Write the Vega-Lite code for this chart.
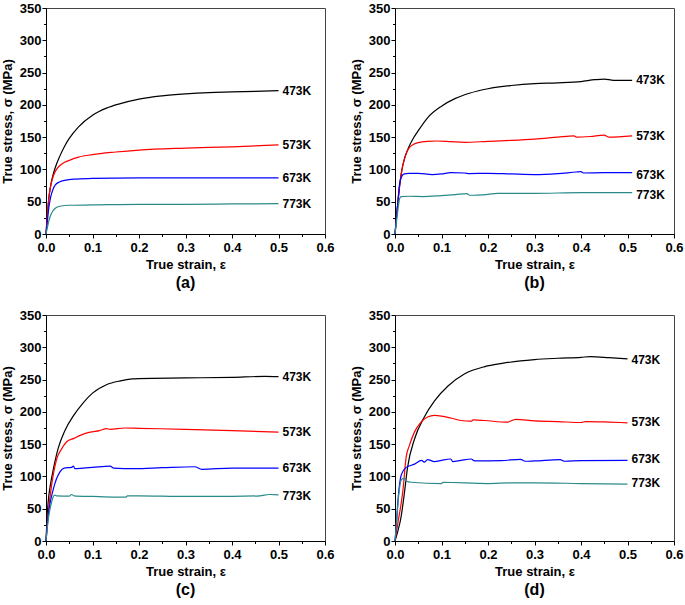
{
"$schema": "https://vega.github.io/schema/vega-lite/v6.json",
"background": "white",
"padding": {"left": 0, "top": 1, "right": 0, "bottom": 0},
"columns": 2,
"spacing": {"row": 16, "column": 14},
"config": {
  "view": {"stroke": "#444444", "strokeWidth": 1},
  "axis": {"grid": false, "domainColor": "#000000", "domainWidth": 1, "tickColor": "#000000", "tickWidth": 1,
    "labelFont": "Liberation Sans", "labelFontSize": 13, "labelFontWeight": "bold", "labelColor": "#000000",
    "titleFont": "Liberation Sans", "titleFontSize": 13, "titleFontWeight": "bold", "titleColor": "#000000",
    "labelFlush": false, "labelOverlap": false},
  "title": {"font": "Liberation Sans", "fontSize": 16, "fontWeight": "bold", "color": "#000000"},
  "text": {"font": "Liberation Sans"}
},
"datasets": {
"curves": [
{"p":"a","T":"473K","e":0,"s":0},{"p":"a","T":"473K","e":0.003,"s":30},{"p":"a","T":"473K","e":0.006,"s":55},{"p":"a","T":"473K","e":0.01,"s":75},{"p":"a","T":"473K","e":0.015,"s":91},{"p":"a","T":"473K","e":0.02,"s":103},{"p":"a","T":"473K","e":0.03,"s":121},{"p":"a","T":"473K","e":0.04,"s":136},{"p":"a","T":"473K","e":0.05,"s":148},{"p":"a","T":"473K","e":0.07,"s":166},{"p":"a","T":"473K","e":0.1,"s":184},{"p":"a","T":"473K","e":0.13,"s":195},{"p":"a","T":"473K","e":0.16,"s":202},{"p":"a","T":"473K","e":0.2,"s":209},{"p":"a","T":"473K","e":0.25,"s":214},{"p":"a","T":"473K","e":0.3,"s":217},{"p":"a","T":"473K","e":0.35,"s":219},{"p":"a","T":"473K","e":0.4,"s":220},{"p":"a","T":"473K","e":0.45,"s":221},{"p":"a","T":"473K","e":0.5,"s":222},
{"p":"a","T":"573K","e":0,"s":0},{"p":"a","T":"573K","e":0.003,"s":30},{"p":"a","T":"573K","e":0.006,"s":55},{"p":"a","T":"573K","e":0.01,"s":74},{"p":"a","T":"573K","e":0.015,"s":88},{"p":"a","T":"573K","e":0.02,"s":97},{"p":"a","T":"573K","e":0.03,"s":106},{"p":"a","T":"573K","e":0.04,"s":111},{"p":"a","T":"573K","e":0.05,"s":114},{"p":"a","T":"573K","e":0.07,"s":119},{"p":"a","T":"573K","e":0.1,"s":123},{"p":"a","T":"573K","e":0.15,"s":127},{"p":"a","T":"573K","e":0.2,"s":130},{"p":"a","T":"573K","e":0.3,"s":133},{"p":"a","T":"573K","e":0.4,"s":135},{"p":"a","T":"573K","e":0.5,"s":138},
{"p":"a","T":"673K","e":0,"s":0},{"p":"a","T":"673K","e":0.003,"s":20},{"p":"a","T":"673K","e":0.006,"s":40},{"p":"a","T":"673K","e":0.01,"s":57},{"p":"a","T":"673K","e":0.015,"s":69},{"p":"a","T":"673K","e":0.02,"s":76},{"p":"a","T":"673K","e":0.03,"s":81},{"p":"a","T":"673K","e":0.04,"s":83},{"p":"a","T":"673K","e":0.06,"s":85},{"p":"a","T":"673K","e":0.1,"s":86},{"p":"a","T":"673K","e":0.2,"s":87},{"p":"a","T":"673K","e":0.3,"s":87},{"p":"a","T":"673K","e":0.4,"s":87},{"p":"a","T":"673K","e":0.5,"s":87},
{"p":"a","T":"773K","e":0,"s":0},{"p":"a","T":"773K","e":0.003,"s":10},{"p":"a","T":"773K","e":0.006,"s":20},{"p":"a","T":"773K","e":0.01,"s":29},{"p":"a","T":"773K","e":0.015,"s":36},{"p":"a","T":"773K","e":0.02,"s":40},{"p":"a","T":"773K","e":0.03,"s":43},{"p":"a","T":"773K","e":0.05,"s":44.5},{"p":"a","T":"773K","e":0.1,"s":45},{"p":"a","T":"773K","e":0.2,"s":46},{"p":"a","T":"773K","e":0.3,"s":46},{"p":"a","T":"773K","e":0.4,"s":46.5},{"p":"a","T":"773K","e":0.5,"s":47},
{"p":"b","T":"473K","e":0,"s":0},{"p":"b","T":"473K","e":0.005,"s":40},{"p":"b","T":"473K","e":0.01,"s":75},{"p":"b","T":"473K","e":0.015,"s":100},{"p":"b","T":"473K","e":0.02,"s":116},{"p":"b","T":"473K","e":0.03,"s":135},{"p":"b","T":"473K","e":0.04,"s":149},{"p":"b","T":"473K","e":0.05,"s":160},{"p":"b","T":"473K","e":0.07,"s":180},{"p":"b","T":"473K","e":0.1,"s":198},{"p":"b","T":"473K","e":0.13,"s":210},{"p":"b","T":"473K","e":0.16,"s":218},{"p":"b","T":"473K","e":0.2,"s":225},{"p":"b","T":"473K","e":0.25,"s":230},{"p":"b","T":"473K","e":0.3,"s":233},{"p":"b","T":"473K","e":0.35,"s":234},{"p":"b","T":"473K","e":0.4,"s":236},{"p":"b","T":"473K","e":0.43,"s":239},{"p":"b","T":"473K","e":0.45,"s":240},{"p":"b","T":"473K","e":0.47,"s":238},{"p":"b","T":"473K","e":0.51,"s":238},
{"p":"b","T":"573K","e":0,"s":0},{"p":"b","T":"573K","e":0.005,"s":40},{"p":"b","T":"573K","e":0.01,"s":75},{"p":"b","T":"573K","e":0.015,"s":100},{"p":"b","T":"573K","e":0.02,"s":115},{"p":"b","T":"573K","e":0.025,"s":126},{"p":"b","T":"573K","e":0.03,"s":133},{"p":"b","T":"573K","e":0.04,"s":139},{"p":"b","T":"573K","e":0.05,"s":141.5},{"p":"b","T":"573K","e":0.07,"s":143.5},{"p":"b","T":"573K","e":0.09,"s":144},{"p":"b","T":"573K","e":0.12,"s":143},{"p":"b","T":"573K","e":0.15,"s":142},{"p":"b","T":"573K","e":0.2,"s":143.5},{"p":"b","T":"573K","e":0.25,"s":145},{"p":"b","T":"573K","e":0.3,"s":147},{"p":"b","T":"573K","e":0.35,"s":150},{"p":"b","T":"573K","e":0.385,"s":152},{"p":"b","T":"573K","e":0.39,"s":150},{"p":"b","T":"573K","e":0.42,"s":151},{"p":"b","T":"573K","e":0.45,"s":153},{"p":"b","T":"573K","e":0.46,"s":150},{"p":"b","T":"573K","e":0.51,"s":152},
{"p":"b","T":"673K","e":0,"s":0},{"p":"b","T":"673K","e":0.005,"s":40},{"p":"b","T":"673K","e":0.01,"s":78},{"p":"b","T":"673K","e":0.015,"s":90},{"p":"b","T":"673K","e":0.02,"s":93},{"p":"b","T":"673K","e":0.03,"s":94},{"p":"b","T":"673K","e":0.05,"s":94},{"p":"b","T":"673K","e":0.08,"s":92},{"p":"b","T":"673K","e":0.1,"s":93},{"p":"b","T":"673K","e":0.12,"s":95},{"p":"b","T":"673K","e":0.15,"s":94.5},{"p":"b","T":"673K","e":0.16,"s":93.5},{"p":"b","T":"673K","e":0.2,"s":94},{"p":"b","T":"673K","e":0.25,"s":93},{"p":"b","T":"673K","e":0.3,"s":92},{"p":"b","T":"673K","e":0.35,"s":93.5},{"p":"b","T":"673K","e":0.39,"s":96},{"p":"b","T":"673K","e":0.4,"s":96.5},{"p":"b","T":"673K","e":0.405,"s":94.5},{"p":"b","T":"673K","e":0.45,"s":95},{"p":"b","T":"673K","e":0.51,"s":95},
{"p":"b","T":"773K","e":0,"s":0},{"p":"b","T":"773K","e":0.005,"s":30},{"p":"b","T":"773K","e":0.01,"s":55},{"p":"b","T":"773K","e":0.013,"s":58},{"p":"b","T":"773K","e":0.03,"s":58.5},{"p":"b","T":"773K","e":0.06,"s":58},{"p":"b","T":"773K","e":0.1,"s":59.5},{"p":"b","T":"773K","e":0.13,"s":61},{"p":"b","T":"773K","e":0.155,"s":62.5},{"p":"b","T":"773K","e":0.16,"s":60},{"p":"b","T":"773K","e":0.2,"s":61.5},{"p":"b","T":"773K","e":0.22,"s":63},{"p":"b","T":"773K","e":0.3,"s":63},{"p":"b","T":"773K","e":0.4,"s":64},{"p":"b","T":"773K","e":0.51,"s":64},
{"p":"c","T":"473K","e":0,"s":0},{"p":"c","T":"473K","e":0.003,"s":45},{"p":"c","T":"473K","e":0.006,"s":70},{"p":"c","T":"473K","e":0.009,"s":85},{"p":"c","T":"473K","e":0.016,"s":112},{"p":"c","T":"473K","e":0.026,"s":143},{"p":"c","T":"473K","e":0.04,"s":170},{"p":"c","T":"473K","e":0.06,"s":195},{"p":"c","T":"473K","e":0.08,"s":214},{"p":"c","T":"473K","e":0.1,"s":229},{"p":"c","T":"473K","e":0.13,"s":242},{"p":"c","T":"473K","e":0.16,"s":248},{"p":"c","T":"473K","e":0.185,"s":251},{"p":"c","T":"473K","e":0.2,"s":251.5},{"p":"c","T":"473K","e":0.3,"s":252.5},{"p":"c","T":"473K","e":0.4,"s":253.5},{"p":"c","T":"473K","e":0.47,"s":255},{"p":"c","T":"473K","e":0.5,"s":254.5},
{"p":"c","T":"573K","e":0,"s":0},{"p":"c","T":"573K","e":0.005,"s":45},{"p":"c","T":"573K","e":0.012,"s":86},{"p":"c","T":"573K","e":0.023,"s":127},{"p":"c","T":"573K","e":0.034,"s":143},{"p":"c","T":"573K","e":0.045,"s":154},{"p":"c","T":"573K","e":0.06,"s":159},{"p":"c","T":"573K","e":0.075,"s":164},{"p":"c","T":"573K","e":0.095,"s":168.5},{"p":"c","T":"573K","e":0.115,"s":171},{"p":"c","T":"573K","e":0.13,"s":174},{"p":"c","T":"573K","e":0.138,"s":173},{"p":"c","T":"573K","e":0.17,"s":175},{"p":"c","T":"573K","e":0.2,"s":174.5},{"p":"c","T":"573K","e":0.3,"s":173},{"p":"c","T":"573K","e":0.4,"s":171},{"p":"c","T":"573K","e":0.5,"s":168.5},
{"p":"c","T":"673K","e":0,"s":0},{"p":"c","T":"673K","e":0.005,"s":40},{"p":"c","T":"673K","e":0.016,"s":81},{"p":"c","T":"673K","e":0.03,"s":107},{"p":"c","T":"673K","e":0.039,"s":113},{"p":"c","T":"673K","e":0.055,"s":114},{"p":"c","T":"673K","e":0.059,"s":116},{"p":"c","T":"673K","e":0.062,"s":112},{"p":"c","T":"673K","e":0.08,"s":113},{"p":"c","T":"673K","e":0.1,"s":114},{"p":"c","T":"673K","e":0.138,"s":116},{"p":"c","T":"673K","e":0.145,"s":113},{"p":"c","T":"673K","e":0.19,"s":112},{"p":"c","T":"673K","e":0.25,"s":113.5},{"p":"c","T":"673K","e":0.32,"s":115},{"p":"c","T":"673K","e":0.335,"s":111},{"p":"c","T":"673K","e":0.4,"s":113},{"p":"c","T":"673K","e":0.5,"s":113},
{"p":"c","T":"773K","e":0,"s":0},{"p":"c","T":"773K","e":0.005,"s":34},{"p":"c","T":"773K","e":0.012,"s":60},{"p":"c","T":"773K","e":0.018,"s":71},{"p":"c","T":"773K","e":0.023,"s":70},{"p":"c","T":"773K","e":0.05,"s":69.5},{"p":"c","T":"773K","e":0.055,"s":72},{"p":"c","T":"773K","e":0.06,"s":70},{"p":"c","T":"773K","e":0.1,"s":69},{"p":"c","T":"773K","e":0.15,"s":68},{"p":"c","T":"773K","e":0.172,"s":68},{"p":"c","T":"773K","e":0.175,"s":70},{"p":"c","T":"773K","e":0.2,"s":70},{"p":"c","T":"773K","e":0.3,"s":69},{"p":"c","T":"773K","e":0.4,"s":69},{"p":"c","T":"773K","e":0.46,"s":70},{"p":"c","T":"773K","e":0.48,"s":72},{"p":"c","T":"773K","e":0.5,"s":71.5},
{"p":"d","T":"473K","e":0,"s":0},{"p":"d","T":"473K","e":0.006,"s":15},{"p":"d","T":"473K","e":0.013,"s":37},{"p":"d","T":"473K","e":0.02,"s":73},{"p":"d","T":"473K","e":0.027,"s":114},{"p":"d","T":"473K","e":0.042,"s":158},{"p":"d","T":"473K","e":0.063,"s":192},{"p":"d","T":"473K","e":0.085,"s":217},{"p":"d","T":"473K","e":0.114,"s":240},{"p":"d","T":"473K","e":0.15,"s":259},{"p":"d","T":"473K","e":0.193,"s":270},{"p":"d","T":"473K","e":0.23,"s":275},{"p":"d","T":"473K","e":0.27,"s":279},{"p":"d","T":"473K","e":0.3,"s":281},{"p":"d","T":"473K","e":0.35,"s":283},{"p":"d","T":"473K","e":0.4,"s":284.5},{"p":"d","T":"473K","e":0.42,"s":285.5},{"p":"d","T":"473K","e":0.46,"s":284},{"p":"d","T":"473K","e":0.5,"s":282},
{"p":"d","T":"573K","e":0,"s":0},{"p":"d","T":"573K","e":0.006,"s":27},{"p":"d","T":"573K","e":0.017,"s":78},{"p":"d","T":"573K","e":0.024,"s":130},{"p":"d","T":"573K","e":0.031,"s":148},{"p":"d","T":"573K","e":0.042,"s":169},{"p":"d","T":"573K","e":0.056,"s":184},{"p":"d","T":"573K","e":0.07,"s":192},{"p":"d","T":"573K","e":0.085,"s":194.5},{"p":"d","T":"573K","e":0.1,"s":193.5},{"p":"d","T":"573K","e":0.12,"s":190.5},{"p":"d","T":"573K","e":0.142,"s":186.6},{"p":"d","T":"573K","e":0.164,"s":185.5},{"p":"d","T":"573K","e":0.168,"s":187.6},{"p":"d","T":"573K","e":0.193,"s":186.6},{"p":"d","T":"573K","e":0.24,"s":184},{"p":"d","T":"573K","e":0.26,"s":188.5},{"p":"d","T":"573K","e":0.3,"s":186},{"p":"d","T":"573K","e":0.35,"s":185},{"p":"d","T":"573K","e":0.4,"s":183.5},{"p":"d","T":"573K","e":0.41,"s":185},{"p":"d","T":"573K","e":0.45,"s":184.5},{"p":"d","T":"573K","e":0.5,"s":183},
{"p":"d","T":"673K","e":0,"s":0},{"p":"d","T":"673K","e":0.002,"s":16},{"p":"d","T":"673K","e":0.007,"s":68},{"p":"d","T":"673K","e":0.013,"s":101},{"p":"d","T":"673K","e":0.024,"s":114},{"p":"d","T":"673K","e":0.042,"s":119},{"p":"d","T":"673K","e":0.057,"s":125},{"p":"d","T":"673K","e":0.063,"s":122},{"p":"d","T":"673K","e":0.07,"s":126},{"p":"d","T":"673K","e":0.085,"s":123},{"p":"d","T":"673K","e":0.1,"s":125},{"p":"d","T":"673K","e":0.12,"s":127},{"p":"d","T":"673K","e":0.124,"s":123},{"p":"d","T":"673K","e":0.142,"s":125},{"p":"d","T":"673K","e":0.164,"s":127},{"p":"d","T":"673K","e":0.171,"s":124},{"p":"d","T":"673K","e":0.229,"s":124.5},{"p":"d","T":"673K","e":0.27,"s":126.5},{"p":"d","T":"673K","e":0.28,"s":123.5},{"p":"d","T":"673K","e":0.3,"s":124},{"p":"d","T":"673K","e":0.355,"s":126},{"p":"d","T":"673K","e":0.365,"s":123.5},{"p":"d","T":"673K","e":0.4,"s":124.5},{"p":"d","T":"673K","e":0.5,"s":125},
{"p":"d","T":"773K","e":0,"s":0},{"p":"d","T":"773K","e":0.004,"s":37},{"p":"d","T":"773K","e":0.009,"s":78},{"p":"d","T":"773K","e":0.014,"s":95},{"p":"d","T":"773K","e":0.019,"s":97},{"p":"d","T":"773K","e":0.024,"s":93},{"p":"d","T":"773K","e":0.035,"s":91},{"p":"d","T":"773K","e":0.1,"s":89},{"p":"d","T":"773K","e":0.103,"s":91},{"p":"d","T":"773K","e":0.2,"s":89},{"p":"d","T":"773K","e":0.25,"s":90},{"p":"d","T":"773K","e":0.3,"s":90},{"p":"d","T":"773K","e":0.4,"s":89},{"p":"d","T":"773K","e":0.5,"s":88}
],
"labels": [
{"p":"a","T":"473K","e":0.5,"s":221.5},{"p":"a","T":"573K","e":0.5,"s":137.5},{"p":"a","T":"673K","e":0.5,"s":87},{"p":"a","T":"773K","e":0.5,"s":47},
{"p":"b","T":"473K","e":0.51,"s":238},{"p":"b","T":"573K","e":0.51,"s":152},{"p":"b","T":"673K","e":0.51,"s":92},{"p":"b","T":"773K","e":0.51,"s":61},
{"p":"c","T":"473K","e":0.5,"s":254},{"p":"c","T":"573K","e":0.5,"s":169},{"p":"c","T":"673K","e":0.5,"s":113},{"p":"c","T":"773K","e":0.5,"s":69},
{"p":"d","T":"473K","e":0.5,"s":281},{"p":"d","T":"573K","e":0.5,"s":184},{"p":"d","T":"673K","e":0.5,"s":127},{"p":"d","T":"773K","e":0.5,"s":89.5}
]
},
"concat": [
{"width": 279, "height": 226,
 "title": {"text": "(a)", "orient": "bottom", "offset": 4},
 "encoding": {
  "x": {"field": "e", "type": "quantitative", "title": "True strain, ε", "scale": {"domain": [0, 0.6], "nice": false, "zero": false},
    "axis": {"values": [0,0.05,0.1,0.15,0.2,0.25,0.3,0.35,0.4,0.45,0.5,0.55,0.6], "format": ".1f", "labelExpr": "round(datum.value*20) % 2 === 0 ? datum.label : ''", "tickSize": {"condition": {"test": "round(datum.value*20) % 2 !== 0", "value": 2.5}, "value": 4}, "labelPadding": 3, "titlePadding": 4}},
  "y": {"field": "s", "type": "quantitative", "title": "True stress, σ (MPa)", "scale": {"domain": [0, 350], "nice": false},
    "axis": {"values": [0,25,50,75,100,125,150,175,200,225,250,275,300,325,350], "labelExpr": "datum.value % 50 === 0 ? datum.label : ''", "tickSize": {"condition": {"test": "datum.value % 50 !== 0", "value": 2.5}, "value": 4}, "labelPadding": 1, "titlePadding": 5}}
 },
 "layer": [
  {"data": {"name": "curves"}, "transform": [{"filter": "datum.p === 'a'"}],
   "mark": {"type": "line", "strokeWidth": 1.2, "interpolate": "monotone"},
   "encoding": {"color": {"field": "T", "type": "nominal", "scale": {"domain": ["473K","573K","673K","773K"], "range": ["#000000","#ff0000","#0000ff","#2a8a8a"]}, "legend": null}}},
  {"data": {"name": "labels"}, "transform": [{"filter": "datum.p === 'a'"}],
   "mark": {"type": "text", "align": "left", "baseline": "middle", "dx": 4, "fontSize": 12, "fontWeight": "bold", "color": "#000000"},
   "encoding": {"text": {"field": "T"}}}
 ]},
{"width": 279, "height": 226,
 "title": {"text": "(b)", "orient": "bottom", "offset": 4},
 "encoding": {
  "x": {"field": "e", "type": "quantitative", "title": "True strain, ε", "scale": {"domain": [0, 0.6], "nice": false, "zero": false},
    "axis": {"values": [0,0.05,0.1,0.15,0.2,0.25,0.3,0.35,0.4,0.45,0.5,0.55,0.6], "format": ".1f", "labelExpr": "round(datum.value*20) % 2 === 0 ? datum.label : ''", "tickSize": {"condition": {"test": "round(datum.value*20) % 2 !== 0", "value": 2.5}, "value": 4}, "labelPadding": 3, "titlePadding": 4}},
  "y": {"field": "s", "type": "quantitative", "title": "True stress, σ (MPa)", "scale": {"domain": [0, 350], "nice": false},
    "axis": {"values": [0,25,50,75,100,125,150,175,200,225,250,275,300,325,350], "labelExpr": "datum.value % 50 === 0 ? datum.label : ''", "tickSize": {"condition": {"test": "datum.value % 50 !== 0", "value": 2.5}, "value": 4}, "labelPadding": 1, "titlePadding": 5}}
 },
 "layer": [
  {"data": {"name": "curves"}, "transform": [{"filter": "datum.p === 'b'"}],
   "mark": {"type": "line", "strokeWidth": 1.2, "interpolate": "monotone"},
   "encoding": {"color": {"field": "T", "type": "nominal", "scale": {"domain": ["473K","573K","673K","773K"], "range": ["#000000","#ff0000","#0000ff","#2a8a8a"]}, "legend": null}}},
  {"data": {"name": "labels"}, "transform": [{"filter": "datum.p === 'b'"}],
   "mark": {"type": "text", "align": "left", "baseline": "middle", "dx": 4, "fontSize": 12, "fontWeight": "bold", "color": "#000000"},
   "encoding": {"text": {"field": "T"}}}
 ]},
{"width": 279, "height": 226,
 "title": {"text": "(c)", "orient": "bottom", "offset": 4},
 "encoding": {
  "x": {"field": "e", "type": "quantitative", "title": "True strain, ε", "scale": {"domain": [0, 0.6], "nice": false, "zero": false},
    "axis": {"values": [0,0.05,0.1,0.15,0.2,0.25,0.3,0.35,0.4,0.45,0.5,0.55,0.6], "format": ".1f", "labelExpr": "round(datum.value*20) % 2 === 0 ? datum.label : ''", "tickSize": {"condition": {"test": "round(datum.value*20) % 2 !== 0", "value": 2.5}, "value": 4}, "labelPadding": 3, "titlePadding": 4}},
  "y": {"field": "s", "type": "quantitative", "title": "True stress, σ (MPa)", "scale": {"domain": [0, 350], "nice": false},
    "axis": {"values": [0,25,50,75,100,125,150,175,200,225,250,275,300,325,350], "labelExpr": "datum.value % 50 === 0 ? datum.label : ''", "tickSize": {"condition": {"test": "datum.value % 50 !== 0", "value": 2.5}, "value": 4}, "labelPadding": 1, "titlePadding": 5}}
 },
 "layer": [
  {"data": {"name": "curves"}, "transform": [{"filter": "datum.p === 'c'"}],
   "mark": {"type": "line", "strokeWidth": 1.2, "interpolate": "monotone"},
   "encoding": {"color": {"field": "T", "type": "nominal", "scale": {"domain": ["473K","573K","673K","773K"], "range": ["#000000","#ff0000","#0000ff","#2a8a8a"]}, "legend": null}}},
  {"data": {"name": "labels"}, "transform": [{"filter": "datum.p === 'c'"}],
   "mark": {"type": "text", "align": "left", "baseline": "middle", "dx": 4, "fontSize": 12, "fontWeight": "bold", "color": "#000000"},
   "encoding": {"text": {"field": "T"}}}
 ]},
{"width": 279, "height": 226,
 "title": {"text": "(d)", "orient": "bottom", "offset": 4},
 "encoding": {
  "x": {"field": "e", "type": "quantitative", "title": "True strain, ε", "scale": {"domain": [0, 0.6], "nice": false, "zero": false},
    "axis": {"values": [0,0.05,0.1,0.15,0.2,0.25,0.3,0.35,0.4,0.45,0.5,0.55,0.6], "format": ".1f", "labelExpr": "round(datum.value*20) % 2 === 0 ? datum.label : ''", "tickSize": {"condition": {"test": "round(datum.value*20) % 2 !== 0", "value": 2.5}, "value": 4}, "labelPadding": 3, "titlePadding": 4}},
  "y": {"field": "s", "type": "quantitative", "title": "True stress, σ (MPa)", "scale": {"domain": [0, 350], "nice": false},
    "axis": {"values": [0,25,50,75,100,125,150,175,200,225,250,275,300,325,350], "labelExpr": "datum.value % 50 === 0 ? datum.label : ''", "tickSize": {"condition": {"test": "datum.value % 50 !== 0", "value": 2.5}, "value": 4}, "labelPadding": 1, "titlePadding": 5}}
 },
 "layer": [
  {"data": {"name": "curves"}, "transform": [{"filter": "datum.p === 'd'"}],
   "mark": {"type": "line", "strokeWidth": 1.2, "interpolate": "monotone"},
   "encoding": {"color": {"field": "T", "type": "nominal", "scale": {"domain": ["473K","573K","673K","773K"], "range": ["#000000","#ff0000","#0000ff","#2a8a8a"]}, "legend": null}}},
  {"data": {"name": "labels"}, "transform": [{"filter": "datum.p === 'd'"}],
   "mark": {"type": "text", "align": "left", "baseline": "middle", "dx": 4, "fontSize": 12, "fontWeight": "bold", "color": "#000000"},
   "encoding": {"text": {"field": "T"}}}
 ]}
]
}
